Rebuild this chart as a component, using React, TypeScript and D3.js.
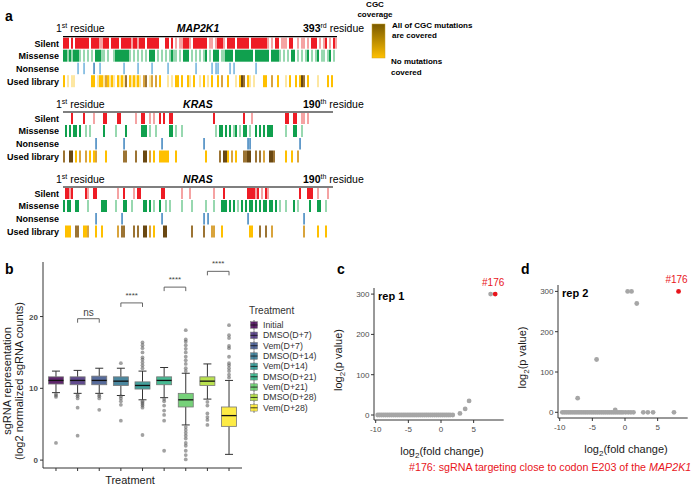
import React from 'react';
import * as d3 from 'd3';

// ---------- panel a: mutation tracks, one character = one 2px residue bin ----------
// '.' none, '#' strong, '+' light ; library: p pale, y gold, t tan, b brown, d dark
const MAP2K1_SILENT = [
  '###.#.####', '###.####++', '###.####.#', '####+##+##', '#.######..', '.##.#.+.++', '###+.#####',
  '##.++.+###', '+.####.###', '###.######', '##+.+.##.+', '++.##..+.+', '+.+.###.+.', '+#.+.#+',
].join('');
const MAP2K1_MISSENSE = [
  '##+#+###+.', '+.+.+.###+', '+.+..+####', '###+.+.+.+', '.+.###.+.+', '.+.+#++.+.', '###.+.+.+.',
  '+#.+.###.+', '+####.####', '#####.####', '###.####+.', '+.+.##.+.+', '.+#.+.+#.+', '+.+#.+.',
].join('');
const MAP2K1_NONSENSE = [
  '.......+..', '+....#..+.', '..........', '+......+..', '....+.....', '..+.......', '......+...',
  '....+.++..', '...+.+....', '......+...', '..........', '..........', '..........', '.......',
].join('');
const MAP2K1_LIBRARY = [
  'y.p.pp....', '....yy.pyy', 'ptypyp.ypy', 'pb.ypypyp.', 'tb.pt.t.y.', '..p.p.yy.y', '..yp.y..p.',
  'y.p.y..y.t', '..y...p.yd', 'b.yp.p....', 'yy..t..y..', '.p.y..y.yd', 'b.y....p..', '..y.y..',
].join('');

const KRAS_SILENT = [
  '....#.....', '#....+....', '##.....##.', '......+..#', '#..+.+..#.', '#..##.....', '..........',
  '.....#....', '..........', '#...+.....', '..........', '.##..##..+', '+.+.......', '.....',
].join('');
const KRAS_MISSENSE = [
  '.#.#.##.#.', '.+.+......', '#.....+...', '.#.......#', '##.+..+...', '...##.+..+', '..........',
  '......+.##', '.#.#.+#.+.', '##.+..#.#.', '#.###.....', '.+...##..+', '..........', '.....',
].join('');
const KRAS_NONSENSE = [
  '..........', '......#...', '..........', '#.........', '.........#', '..........', '..........',
  '#.........', '..........', '..##......', '..........', '........#.', '..........', '.....',
].join('');
const KRAS_LIBRARY = [
  'b..dd.y.t.', '.t.y.yt...', '.y........', 'bb....b...', 'dd.t.y..yy', 'yyy...y...', '..........',
  '.y......b.', 'ddy.t.y...', 'bbdd..b.b.', 't..ddb....', '.y..y..t..', '..........', '.....',
].join('');

const NRAS_SILENT = [
  '.##+#.....', '.#+..##...', '.......+..', '#....+.##.', '.........#', '#........+', '...+......',
  '.....+....', '#.........', '..####+#.+', '.#+.......', '........#.', '..###..+..', '..+..',
].join('');
const NRAS_MISSENSE = [
  '#.##..##..', '..+......#', '##....+...', '##..+.....', '##.#.+..#.', '.+.+.....+', '....+.....',
  '.+...+...#', '##.#.#.+.#', '.#.##.#.#.', '##.##.#.+.', '.+...#.+..', '...#...##.', '.+...',
].join('');
const NRAS_NONSENSE = [
  '..........', '......#...', '.........#', '..........', '.........#', '..........', '..........',
  '#.#.......', '..........', '..#.......', '..........', '..........', '#.........', '.....',
].join('');
const NRAS_LIBRARY = [
  '.yyy..bb..', 'yyt...y..y', '.......t.b', 'b....b.b..', 'dd.t.y....', 'dd........', '....b.....',
  'b...tt...y', '..........', '...yy...b.', '.b..t.....', '..........', 't......y..', '.y...',
].join('');

const ROW_NAMES = ['Silent', 'Missense', 'Nonsense', 'Used library'];

// ---------- panel b: boxplots ----------
const TREATMENTS = ['Initial', 'DMSO(D+7)', 'Vem(D+7)', 'DMSO(D+14)', 'Vem(D+14)', 'DMSO(D+21)', 'Vem(D+21)', 'DMSO(D+28)', 'Vem(D+28)'];
const BOX_Q1 = [10.6, 10.5, 10.5, 10.4, 9.9, 10.5, 7.4, 10.4, 4.7];
const BOX_MEDIAN = [11.1, 11.1, 11.1, 11.0, 10.4, 11.1, 8.4, 11.0, 6.2];
const BOX_Q3 = [11.6, 11.6, 11.7, 11.6, 10.9, 11.6, 9.3, 11.6, 7.4];
const WHISKER_LO = [9.4, 9.3, 9.3, 9.0, 8.4, 8.7, 4.9, 8.5, 0.8];
const WHISKER_HI = [12.4, 12.5, 12.8, 12.8, 12.4, 12.9, 12.1, 13.4, 11.1];
const OUTLIERS = [
  [9.2, 9.0, 8.8, 2.4],
  [9.1, 8.9, 8.6, 7.3, 3.4],
  [9.1, 8.9, 8.6, 7.0],
  [13.5, 8.9, 8.6, 8.2, 7.7, 5.5],
  [12.8, 13.2, 13.6, 14.0, 14.3, 15.0, 15.6, 16.0, 16.4, 8.2, 8.0, 7.8, 7.6, 7.3, 3.5],
  [8.5, 8.2, 7.6, 6.9, 6.3, 5.5, 1.3],
  [12.4, 12.8, 13.4, 13.9, 14.4, 15.0, 15.5, 16.0, 16.5, 16.8, 18.1, 4.6, 4.2, 3.8, 3.4, 3.0, 2.4, 2.0, 1.3, 0.7, 0.1],
  [8.1, 7.6, 6.5, 6.0, 5.6, 4.9],
  [11.5, 11.9, 12.4, 12.8, 13.2, 13.5, 14.4, 15.6, 15.9, 17.0, 17.4, 18.8],
];
const SIG_FROM = [1, 3, 5, 7];
const SIG_TO = [2, 4, 6, 8];
const SIG_Y = [19.7, 21.9, 24.1, 26.3];
const SIG_LABELS = ['ns', '****', '****', '****'];
const B_YTICKS = [0, 10, 20];

// ---------- panels c, d: volcano ----------
const FC_TICKS = [-10, -5, 0, 5];
const P_TICKS = [0, 100, 200, 300];
const REP1_FLAT_FC = [-9.7, -9.4, -9.1, -8.8, -8.5, -8.2, -7.9, -7.6, -7.3, -7.0, -6.7, -6.4, -6.1, -5.8, -5.5, -5.2, -4.9, -4.6, -4.3, -4.0, -3.7, -3.4, -3.1, -2.8, -2.5, -2.2, -1.9, -1.6, -1.3, -1.0, -0.7, -0.4, -0.1, 0.2, 0.5, 0.8, 1.1, 1.4, 1.8];
const REP1_HIT_FC = [2.9, 3.7, 4.3, 7.6];
const REP1_HIT_P = [4, 15, 35, 300];
const REP1_TARGET = [8.3, 300];
const REP2_FLAT_FC = [-9.6, -9.3, -9.0, -8.7, -8.4, -8.1, -7.8, -7.5, -7.2, -6.9, -6.6, -6.3, -6.0, -5.7, -5.4, -5.1, -4.8, -4.5, -4.2, -3.9, -3.6, -3.3, -3.0, -2.7, -2.4, -2.1, -1.8, -1.5, -1.2, -0.9, -0.6, -0.3, 0.1, 0.5, 0.9, 1.3, 2.8, 3.5, 4.3, 7.5];
const REP2_HIT_FC = [-1.5, -7.25, -4.35, 0.4, 1.0, 1.8];
const REP2_HIT_P = [6, 35, 131, 300, 300, 270];
const REP2_TARGET = [8.2, 300];

const SANS = "'Liberation Sans', Arial, sans-serif";
const NARROW = "'Liberation Sans Narrow', 'Liberation Sans', Arial, sans-serif";
const RED = '#e8141b';

const SILENT_C: Record<string, string> = { '#': '#ee1c25', '+': '#f5a3a3' };
const MISS_C: Record<string, string> = { '#': '#10a04e', '+': '#98d8b0' };
const NON_C: Record<string, string> = { '#': '#1f6fb4', '+': '#5aa6d8' };
const LIB_C: Record<string, string> = { p: '#fde7a2', y: '#ffc000', t: '#d9a43c', b: '#9c7434', d: '#6a4812' };

function Track({ bins, x0, y, h, colors, thin }: any) {
  const x = d3.scaleLinear().domain([0, bins.length]).range([x0, x0 + bins.length * 2]);
  return (
    <g>
      {bins.split('').map((c: string, i: number) => {
        if (c === '.') return null;
        const w = thin ? 1.3 : x(i + 1) - x(i);
        return <rect key={i} x={thin ? x(i) + 0.4 : x(i)} y={y} width={w} height={h} fill={colors[c]} />;
      })}
    </g>
  );
}

function Gene({ name, lastNum, lastSup, lineY, rows }: any) {
  const x0 = 63;
  const len = rows[0].length * 2;
  const rowTop = [lineY + 1, lineY + 13, lineY + 26, lineY + 38.5];
  const rowH = [11, 12, 11.5, 12];
  const palettes = [SILENT_C, MISS_C, NON_C, LIB_C];
  return (
    <g>
      <text x={56} y={lineY - 4.5} fontSize={10.5} fontFamily={NARROW}>
        <tspan>1</tspan><tspan dy={-4} fontSize={7}>st</tspan><tspan dy={4}> residue</tspan>
      </text>
      <text x={198} y={lineY - 4.5} fontSize={10.5} fontWeight="bold" fontStyle="italic" textAnchor="middle" fontFamily={NARROW}>{name}</text>
      <text x={303} y={lineY - 4.5} fontSize={10.5} fontFamily={NARROW}>
        <tspan fontWeight="bold">{lastNum}</tspan><tspan dy={-4} fontSize={7}>{lastSup}</tspan><tspan dy={4}> residue</tspan>
      </text>
      {rows.map((r: string, i: number) => (
        <Track key={i} bins={r} x0={x0} y={rowTop[i]} h={rowH[i]} colors={palettes[i]} thin={i === 2} />
      ))}
      <line x1={x0} x2={x0 + len} y1={lineY} y2={lineY} stroke="#000" strokeWidth={1.2} />
      {ROW_NAMES.map((n, i) => (
        <text key={n} x={59} y={rowTop[i] + rowH[i] / 2 + 3.3} fontSize={9} fontWeight="bold" textAnchor="end" fontFamily={NARROW}>{n}</text>
      ))}
    </g>
  );
}

function PanelA() {
  const genes = [
    { name: 'MAP2K1', lastNum: '393', lastSup: 'rd', lineY: 36.7, rows: [MAP2K1_SILENT, MAP2K1_MISSENSE, MAP2K1_NONSENSE, MAP2K1_LIBRARY] },
    { name: 'KRAS', lastNum: '190', lastSup: 'th', lineY: 112, rows: [KRAS_SILENT, KRAS_MISSENSE, KRAS_NONSENSE, KRAS_LIBRARY] },
    { name: 'NRAS', lastNum: '190', lastSup: 'th', lineY: 187, rows: [NRAS_SILENT, NRAS_MISSENSE, NRAS_NONSENSE, NRAS_LIBRARY] },
  ];
  return (
    <g>
      <text x={5} y={21} fontSize={14} fontWeight="bold" fontFamily={SANS}>a</text>
      {genes.map((g) => <Gene key={g.name} {...g} />)}
      {/* CGC coverage legend */}
      <defs>
        <linearGradient id="cgc" x1="0" y1="0" x2="0" y2="1">
          <stop offset="0%" stopColor="#7a5a00" />
          <stop offset="100%" stopColor="#ffc000" />
        </linearGradient>
      </defs>
      <g fontFamily={NARROW} fontWeight="bold" fontSize={8}>
        <text x={375} y={7} textAnchor="middle">CGC</text>
        <text x={375} y={17} textAnchor="middle">coverage</text>
        <rect x={372} y={24} width={13} height={34} fill="url(#cgc)" stroke="#c9a227" strokeWidth={0.5} />
        <text x={392} y={28}>All of CGC mutations</text>
        <text x={392} y={38}>are covered</text>
        <text x={391} y={64}>No mutations</text>
        <text x={391} y={75}>covered</text>
      </g>
    </g>
  );
}

function PanelB() {
  const y = d3.scaleLinear().domain([-1.1, 27.6]).range([468, 262]);
  const x = d3.scalePoint<string>().domain(TREATMENTS).range([43, 242]).padding(0.6);
  const colors = d3.quantize(d3.interpolateViridis, TREATMENTS.length);
  const bw = 15;
  return (
    <g fontFamily={SANS}>
      <text x={5} y={274} fontSize={14} fontWeight="bold">b</text>
      {/* axes */}
      <line x1={43} x2={43} y1={262} y2={468} stroke="#333" strokeWidth={1} />
      <line x1={43} x2={242} y1={468} y2={468} stroke="#333" strokeWidth={1} />
      {B_YTICKS.map((t) => (
        <g key={t}>
          <line x1={40} x2={43} y1={y(t)} y2={y(t)} stroke="#333" />
          <text x={38} y={y(t) + 3} fontSize={8} fontWeight="bold" fill="#4d4d4d" textAnchor="end">{t}</text>
        </g>
      ))}
      {TREATMENTS.map((t) => (
        <line key={t} x1={x(t)} x2={x(t)} y1={468} y2={471} stroke="#333" />
      ))}
      <text transform="translate(11,381) rotate(-90)" fontSize={11} textAnchor="middle" fill="#1a1a1a">sgRNA representation</text>
      <text transform="translate(23,381) rotate(-90)" fontSize={11} textAnchor="middle" fill="#1a1a1a">(log2 normalized sgRNA counts)</text>
      <text x={130} y={484} fontSize={11} textAnchor="middle" fill="#1a1a1a">Treatment</text>
      {/* boxes */}
      {TREATMENTS.map((t, i) => {
        const cx = x(t)!;
        return (
          <g key={t}>
            <line x1={cx} x2={cx} y1={y(WHISKER_HI[i])} y2={y(BOX_Q3[i])} stroke="#333" strokeWidth={1} />
            <line x1={cx} x2={cx} y1={y(BOX_Q1[i])} y2={y(WHISKER_LO[i])} stroke="#333" strokeWidth={1} />
            <line x1={cx - 4} x2={cx + 4} y1={y(WHISKER_HI[i])} y2={y(WHISKER_HI[i])} stroke="#333" />
            <line x1={cx - 4} x2={cx + 4} y1={y(WHISKER_LO[i])} y2={y(WHISKER_LO[i])} stroke="#333" />
            {OUTLIERS[i].map((v, j) => (
              <circle key={j} cx={cx} cy={y(v)} r={1.9} fill="#555" fillOpacity={0.55} />
            ))}
            <rect x={cx - bw / 2} y={y(BOX_Q3[i])} width={bw} height={y(BOX_Q1[i]) - y(BOX_Q3[i])} fill={colors[i]} fillOpacity={0.85} stroke="#777" strokeWidth={0.8} />
            <line x1={cx - bw / 2} x2={cx + bw / 2} y1={y(BOX_MEDIAN[i])} y2={y(BOX_MEDIAN[i])} stroke="#111" strokeWidth={1.3} />
          </g>
        );
      })}
      {/* significance */}
      {SIG_LABELS.map((lab, k) => {
        const x1 = x(TREATMENTS[SIG_FROM[k]])!;
        const x2 = x(TREATMENTS[SIG_TO[k]])!;
        const yy = y(SIG_Y[k]);
        return (
          <g key={k}>
            <path d={`M${x1},${yy + 4}V${yy}H${x2}V${yy + 4}`} fill="none" stroke="#555" strokeWidth={0.9} />
            <text x={(x1 + x2) / 2} y={lab === 'ns' ? yy - 2.5 : yy - 5} fontSize={lab === 'ns' ? 10 : 8} textAnchor="middle" fill="#444">{lab}</text>
          </g>
        );
      })}
      {/* legend */}
      <text x={249} y={314} fontSize={10} fill="#333">Treatment</text>
      {TREATMENTS.map((t, i) => {
        const ly = 325 + i * 10.35;
        return (
          <g key={t}>
            <line x1={254} x2={254} y1={ly - 5} y2={ly + 5} stroke="#444" strokeWidth={0.8} />
            <rect x={250.5} y={ly - 3.3} width={7} height={6.6} fill={colors[i]} fillOpacity={0.85} stroke="#777" strokeWidth={0.5} />
            <line x1={250.5} x2={257.5} y1={ly} y2={ly} stroke="#111" strokeWidth={0.8} />
            <text x={263} y={ly + 3} fontSize={8.8} fill="#333">{t}</text>
          </g>
        );
      })}
    </g>
  );
}

function Volcano({ label, rep, x0, xZero, yZero, axisTop, axisY, flatFc, hitFc, hitP, target }: any) {
  const x = d3.scaleLinear().domain([-10, 5]).range([xZero - 10 * 6.53, xZero + 5 * 6.53]);
  const y = d3.scaleLinear().domain([0, 300]).range([yZero, yZero - 300 * 0.403]);
  const xEnd = 9.6;
  return (
    <g fontFamily={SANS}>
      <text x={x0 - 37} y={274} fontSize={14} fontWeight="bold">{label}</text>
      <line x1={x0} x2={x0} y1={axisTop} y2={axisY} stroke="#333" />
      <line x1={x0} x2={x(xEnd)} y1={axisY} y2={axisY} stroke="#333" />
      {P_TICKS.map((t) => (
        <g key={t}>
          <line x1={x0 - 3} x2={x0} y1={y(t)} y2={y(t)} stroke="#333" />
          <text x={x0 - 4.5} y={y(t) + 3} fontSize={8} fill="#4d4d4d" textAnchor="end">{t}</text>
        </g>
      ))}
      {FC_TICKS.map((t) => (
        <g key={t}>
          <line x1={x(t)} x2={x(t)} y1={axisY} y2={axisY + 3} stroke="#333" />
          <text x={x(t)} y={axisY + 11.5} fontSize={8} fill="#4d4d4d" textAnchor="middle">{t}</text>
        </g>
      ))}
      <text transform={`translate(${x0 - 32},${(axisTop + axisY) / 2 + 6}) rotate(-90)`} fontSize={11} textAnchor="middle" fill="#1a1a1a">
        log<tspan dy={3} fontSize={8}>2</tspan><tspan dy={-3}>(p value)</tspan>
      </text>
      <text x={x(0) + 1} y={axisY + 35} fontSize={11} textAnchor="middle" fill="#1a1a1a">
        log<tspan dy={3} fontSize={8}>2</tspan><tspan dy={-3}>(fold change)</tspan>
      </text>
      <text x={x0 + 4} y={axisTop + 12} fontSize={11} fontWeight="bold">{rep}</text>
      {flatFc.map((v: number, i: number) => (
        <circle key={'f' + i} cx={x(v)} cy={y(0)} r={2.4} fill="#a6a6a6" />
      ))}
      {hitFc.map((v: number, i: number) => (
        <circle key={'h' + i} cx={x(v)} cy={y(hitP[i])} r={2.4} fill="#a6a6a6" />
      ))}
      <circle cx={x(target[0])} cy={y(target[1])} r={2.4} fill={RED} />
      <text x={x(target[0]) - 2} y={y(target[1]) - 8} fontSize={10} fill={RED} textAnchor="middle" fontFamily={NARROW}>#176</text>
    </g>
  );
}

export default function App() {
  return (
    <div style={{ position: 'absolute', left: 0, top: 0 }}>
      <svg width={692} height={485} style={{ display: 'block', background: '#fff' }}>
        <PanelA />
        <PanelB />
        <Volcano label="c" rep="rep 1" x0={374} xZero={441} yZero={415} axisTop={288} axisY={420}
          flatFc={REP1_FLAT_FC} hitFc={REP1_HIT_FC} hitP={REP1_HIT_P} target={REP1_TARGET} />
        <Volcano label="d" rep="rep 2" x0={558} xZero={625} yZero={412.3} axisTop={285} axisY={418}
          flatFc={REP2_FLAT_FC} hitFc={REP2_HIT_FC} hitP={REP2_HIT_P} target={REP2_TARGET} />
        <text x={409} y={471} fontSize={10.7} fill={RED} fontFamily={NARROW}>
          #176: sgRNA targeting close to codon E203 of the <tspan fontStyle="italic">MAP2K1</tspan>
        </text>
      </svg>
    </div>
  );
}
